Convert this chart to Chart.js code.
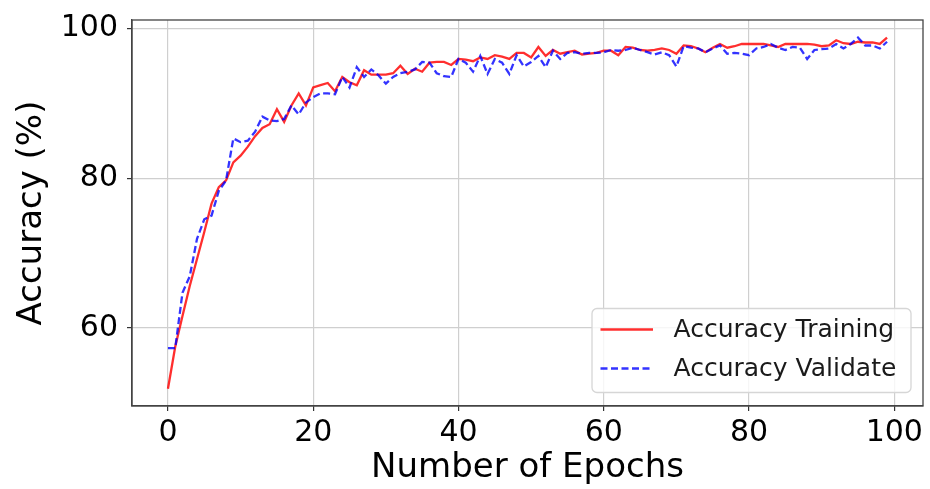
<!DOCTYPE html>
<html><head><meta charset="utf-8">
<script src="https://cdn.jsdelivr.net/npm/chart.js@4"></script>
<style>html,body{margin:0;padding:0;background:#fff;}#wrap{width:930px;height:489px;}</style>
</head><body><div id="wrap"><canvas id="c" width="930" height="489"></canvas></div>
<script>
const epochs = [0,1,2,3,4,5,6,7,8,9,10,11,12,13,14,15,16,17,18,19,20,21,22,23,24,25,26,27,28,29,30,31,32,33,34,35,36,37,38,39,40,41,42,43,44,45,46,47,48,49,50,51,52,53,54,55,56,57,58,59,60,61,62,63,64,65,66,67,68,69,70,71,72,73,74,75,76,77,78,79,80,81,82,83,84,85,86,87,88,89,90,91,92,93,94,95,96,97,98,99];
const trainAcc = [51.9,57.5,61.6,65.6,69.2,72.8,76.6,78.8,79.7,82.1,83.0,84.2,85.6,86.7,87.2,89.2,87.5,89.7,91.3,89.7,92.1,92.4,92.7,91.6,93.5,92.8,92.4,94.4,93.8,93.8,93.8,94.0,95.0,93.9,94.6,94.2,95.4,95.5,95.5,95.1,95.9,95.8,95.6,96.1,95.9,96.4,96.2,95.9,96.7,96.7,96.1,97.5,96.3,97.1,96.6,96.8,97.0,96.5,96.6,96.7,97.0,97.0,96.4,97.5,97.4,97.1,97.0,97.1,97.3,97.1,96.6,97.7,97.6,97.3,96.8,97.4,97.9,97.4,97.6,97.9,97.9,97.9,97.9,97.7,97.5,97.9,97.9,97.9,97.9,97.8,97.6,97.7,98.4,98.0,97.9,98.2,98.1,98.1,97.9,98.75];
const valAcc = [57.3,57.3,64.7,66.9,71.9,74.5,75.0,78.3,79.7,85.3,84.8,85.0,86.2,88.2,87.7,87.6,87.9,89.7,88.5,90.1,90.8,91.3,91.3,91.2,93.5,92.1,94.8,93.5,94.5,93.7,92.6,93.5,94.0,94.2,94.5,95.5,95.4,94.0,93.6,93.5,95.9,95.4,94.2,96.3,93.9,95.9,95.4,93.9,96.4,94.9,95.5,96.3,94.8,97.0,95.9,96.7,96.8,96.6,96.7,96.7,96.8,97.1,97.0,97.1,97.4,97.1,96.8,96.5,96.8,96.4,94.9,97.6,97.4,97.3,96.8,97.3,97.7,96.6,96.7,96.6,96.4,97.3,97.5,97.9,97.4,97.1,97.5,97.4,95.9,97.1,97.2,97.3,97.9,97.3,97.9,98.75,97.7,97.7,97.3,98.2];
const seriesLabels = ['Accuracy Training','Accuracy Validate'];
const xTicks = [0,20,40,60,80,100];
const xTickLabels = ['0','20','40','60','80','100'];
const yTicks = [60,80,100];
const yTickLabels = ['60','80','100'];
const xTitle = 'Number of Epochs';
const yTitle = 'Accuracy (%)';

const FAMILY = "'DejaVu Sans', sans-serif";

const framePlugin = {
  id: 'frame',
  afterDatasetsDraw(chart) {
    const a = chart.chartArea, c = chart.ctx;
    c.save();
    c.strokeStyle = '#444';
    c.lineWidth = 1.3;
    c.strokeRect(a.left, a.top, a.right - a.left, a.bottom - a.top);
    c.restore();
  }
};

const legendPlugin = {
  id: 'mplLegend',
  afterDraw(chart) {
    const a = chart.chartArea, c = chart.ctx;
    const right = a.right - 12, bottom = a.bottom - 13.5;
    const w = 319, h = 84;
    const left = right - w, top = bottom - h;
    c.save();
    c.beginPath();
    c.roundRect(left, top, w, h, 5);
    c.fillStyle = 'rgba(255,255,255,0.8)';
    c.fill();
    c.strokeStyle = '#d6d6d6';
    c.lineWidth = 1.3;
    c.stroke();
    c.font = '25px ' + FAMILY;
    c.textBaseline = 'middle';
    c.fillStyle = '#1a1a1a';
    chart.data.datasets.forEach((ds, i) => {
      const y = top + 21 + i * 39;
      c.beginPath();
      c.setLineDash(ds.borderDash || []);
      c.strokeStyle = ds.borderColor;
      c.lineWidth = ds.borderWidth;
      c.moveTo(left + 8.5, y);
      c.lineTo(left + 61, y);
      c.stroke();
      c.setLineDash([]);
      c.fillText(ds.label, left + 81.5, y + 1);
    });
    c.restore();
  }
};

new Chart(document.getElementById('c'), {
  type: 'line',
  data: {
    datasets: [
      { label: seriesLabels[0], data: epochs.map((e, i) => ({x: e, y: trainAcc[i]})),
        borderColor: 'rgba(255,0,0,0.82)', borderWidth: 2.3, pointRadius: 0, fill: false, tension: 0, order: 1 },
      { label: seriesLabels[1], data: epochs.map((e, i) => ({x: e, y: valAcc[i]})),
        borderColor: 'rgba(0,0,255,0.8)', borderWidth: 2.3, borderDash: [7, 3.5], pointRadius: 0, fill: false, tension: 0, order: 0 }
    ]
  },
  options: {
    responsive: false, animation: false, devicePixelRatio: 1,
    layout: { padding: { left: 0, right: 7, top: 20, bottom: 0 } },
    plugins: { legend: { display: false }, tooltip: { enabled: false } },
    scales: {
      x: {
        type: 'linear', min: -4.95, max: 103.95,
        afterFit(s) { s.height = 83; s.paddingLeft = 0; s.paddingRight = 0; },
        afterBuildTicks(s) { s.ticks = xTicks.map(v => ({value: v})); },
        grid: { color: '#cfcfcf', lineWidth: 1.2, tickLength: 5, tickColor: '#333', tickWidth: 1.2 },
        border: { display: true, color: '#444', width: 1.3 },
        ticks: { font: { family: FAMILY, size: 30 }, color: '#000', padding: 4, maxRotation: 0, autoSkip: false,
          callback: (v) => { const k = xTicks.indexOf(v); return k >= 0 ? xTickLabels[k] : ''; } },
        title: { display: true, text: xTitle, font: { family: FAMILY, size: 34, lineHeight: 1 }, color: '#000', padding: { top: 0, bottom: 4 } }
      },
      y: {
        type: 'linear', min: 49.59, max: 101.1,
        afterFit(s) { s.width = 132; s.paddingTop = 0; s.paddingBottom = 0; },
        afterBuildTicks(s) { s.ticks = yTicks.map(v => ({value: v})); },
        grid: { color: '#cfcfcf', lineWidth: 1.2, tickLength: 5, tickColor: '#333', tickWidth: 1.2 },
        border: { display: true, color: '#444', width: 1.3 },
        ticks: { font: { family: FAMILY, size: 30 }, color: '#000', padding: 9, autoSkip: false,
          callback: (v) => { const k = yTicks.indexOf(v); return k >= 0 ? yTickLabels[k] : ''; } },
        title: { display: true, text: yTitle, font: { family: FAMILY, size: 34, lineHeight: 1 }, color: '#000', padding: { top: 15, bottom: 0 } }
      }
    }
  },
  plugins: [framePlugin, legendPlugin]
});
</script>
</body></html>
